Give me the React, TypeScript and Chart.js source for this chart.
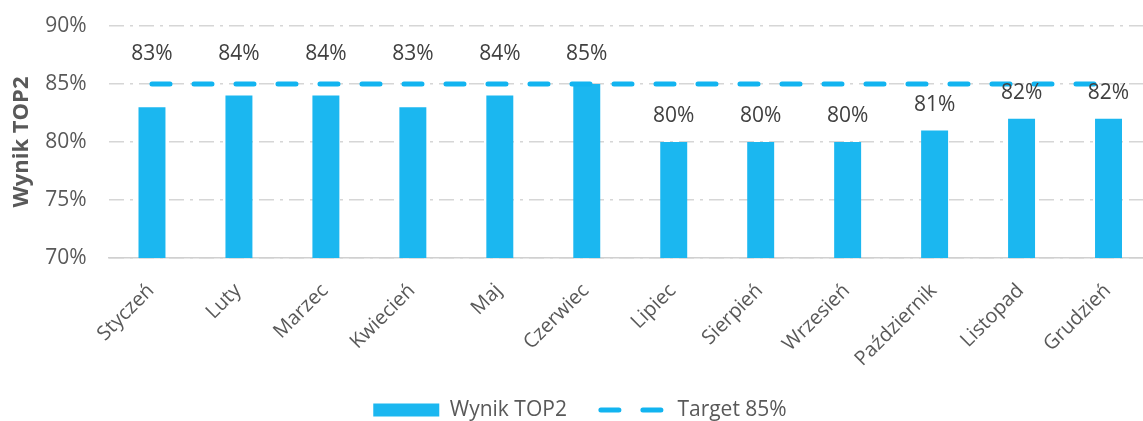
import React, { useEffect, useRef } from 'react';
import { Chart, registerables } from 'chart.js';

Chart.register(...registerables);

const months = ['Styczeń', 'Luty', 'Marzec', 'Kwiecień', 'Maj', 'Czerwiec', 'Lipiec', 'Sierpień', 'Wrzesień', 'Październik', 'Listopad', 'Grudzień'];
const top2Values = [83, 84, 84, 83, 84, 85, 80, 80, 80, 81, 82, 82];
const targetValues = [85, 85, 85, 85, 85, 85, 85, 85, 85, 85, 85, 85];
const yTickValues = [70, 75, 80, 85, 90];
const seriesNames = ['Wynik TOP2', 'Target 85%'];
const axisTitle = 'Wynik TOP2';

const BAR_COLOR = '#1BB7F0';
const LINE_COLOR = '#12B4F0';
const FONT = "'Open Sans', sans-serif";

const valueLabels = {
  id: 'valueLabels',
  afterLayout(chart: any) {
    const l = chart.legend;
    if (l) {
      l.top = 365.5;
      l.bottom = chart.height;
      l.height = l.bottom - l.top;
      l.left += 4; l.right += 4;
    }
  },
  afterDatasetsDraw(chart: any) {
    const meta = chart.getDatasetMeta(0);
    const ys = chart.scales.y;
    const ctx = chart.ctx;
    const tY = ys.getPixelForValue(targetValues[0]);
    ctx.save();
    ctx.font = `21px ${FONT}`;
    ctx.fillStyle = '#404040';
    ctx.textAlign = 'center';
    ctx.textBaseline = 'middle';
    meta.data.forEach((el: any, i: number) => {
      const v = top2Values[i];
      let y = ys.getPixelForValue(v) - 25.5;
      if (y < tY + 5) y = tY - 29.5;
      ctx.fillText(`${v}%`, el.x, y);
    });
    ctx.restore();
  },
};

export default function App() {
  const ref = useRef<HTMLCanvasElement>(null);

  useEffect(() => {
    if (!ref.current) return;
    const chart = new Chart(ref.current, {
      type: 'bar',
      data: {
        labels: months,
        datasets: [
          {
            type: 'bar',
            label: seriesNames[0],
            data: top2Values,
            backgroundColor: BAR_COLOR,
            barPercentage: 0.31,
            categoryPercentage: 1,
            order: 1,
          },
          {
            type: 'line',
            label: seriesNames[1],
            data: targetValues,
            borderColor: LINE_COLOR,
            borderWidth: 5,
            borderDash: [18, 24],
            borderCapStyle: 'round',
            pointRadius: 0,
            fill: false,
            order: 0,
          } as any,
        ],
      },
      options: {
        responsive: false,
        animation: false,
        layout: { padding: { top: 26, left: 0, right: 0, bottom: 0 } },
        plugins: {
          tooltip: { enabled: false },
          legend: {
            position: 'bottom',
            maxHeight: 40,
            labels: {
              usePointStyle: true,
              pointStyleWidth: 66,
              boxHeight: 13,
              padding: 34,
              color: '#595959',
              font: { family: FONT, size: 21 },
              generateLabels: (c: any) =>
                c.data.datasets.map((ds: any, i: number) => ({
                  text: ds.label,
                  datasetIndex: i,
                  hidden: false,
                  fillStyle: i === 0 ? BAR_COLOR : 'rgba(0,0,0,0)',
                  strokeStyle: i === 0 ? BAR_COLOR : LINE_COLOR,
                  lineWidth: i === 0 ? 0 : 5,
                  lineDash: i === 0 ? [] : [18, 24],
                  lineCap: 'round',
                  pointStyle: i === 0 ? 'rect' : 'line',
                  fontColor: '#595959',
                })),
            },
          },
        },
        scales: {
          x: {
            afterFit: (s: any) => { s.height = 123; },
            grid: { display: false },
            border: { display: true, color: '#D0D0D0', width: 1.5 },
            ticks: {
              color: '#595959',
              font: { family: FONT, size: 20 },
              minRotation: 45,
              maxRotation: 45,
              padding: 13,
              labelOffset: -1,
            },
          },
          y: {
            min: 70,
            max: 90,
            afterFit: (s: any) => { s.width = 108.5; s.paddingTop = 0; s.paddingBottom = 0; },
            afterBuildTicks: (s: any) => { s.ticks = yTickValues.map((v) => ({ value: v })); },
            grid: { color: '#D6D6D6', lineWidth: 1.5, drawTicks: false },
            border: { display: false, dash: [15, 6, 3, 6] },
            ticks: {
              color: '#595959',
              font: { family: FONT, size: 21 },
              padding: 22,
              callback: (v: any) => `${v}%`,
            },
            title: {
              display: true,
              text: axisTitle,
              color: '#595959',
              font: { family: FONT, size: 22, weight: 'bold' },
              padding: { top: 9, bottom: 0 },
            },
          },
        },
      },
      plugins: [valueLabels],
    });
    return () => chart.destroy();
  }, []);

  return (
    <div style={{ position: 'fixed', left: 0, top: 0, width: 1143, height: 421, overflow: 'hidden', background: '#fff' }}>
      <canvas ref={ref} width={1152} height={421} style={{ display: 'block' }} />
    </div>
  );
}
